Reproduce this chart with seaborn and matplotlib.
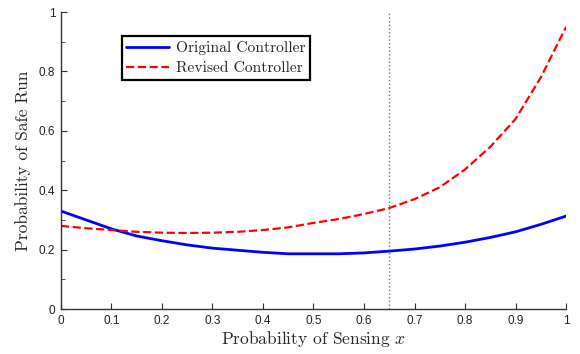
import matplotlib
matplotlib.use("Agg")
import matplotlib.pyplot as plt
import seaborn as sns
import pandas as pd

# values
x_vals = [0.0, 0.05, 0.1, 0.15, 0.2, 0.25, 0.3, 0.35, 0.4, 0.45, 0.5,
          0.55, 0.6, 0.65, 0.7, 0.75, 0.8, 0.85, 0.9, 0.95, 1.0]
original = [0.330, 0.300, 0.270, 0.246, 0.230, 0.216, 0.205, 0.198, 0.191, 0.186, 0.186,
            0.186, 0.189, 0.195, 0.202, 0.212, 0.225, 0.241, 0.260, 0.285, 0.313]
revised = [0.280, 0.272, 0.266, 0.260, 0.257, 0.256, 0.257, 0.260, 0.266, 0.275, 0.290,
           0.303, 0.320, 0.340, 0.370, 0.410, 0.470, 0.546, 0.640, 0.780, 0.950]
x_ticks = [0, 0.1, 0.2, 0.3, 0.4, 0.5, 0.6, 0.7, 0.8, 0.9, 1]
x_ticklabels = ["0", "0.1", "0.2", "0.3", "0.4", "0.5", "0.6", "0.7", "0.8", "0.9", "1"]
y_ticks = [0, 0.2, 0.4, 0.6, 0.8, 1]
y_ticklabels = ["0", "0.2", "0.4", "0.6", "0.8", "1"]
y_minor = [0.1, 0.3, 0.5, 0.7, 0.9]
threshold = 0.65

df = pd.DataFrame({"x": x_vals, "Original Controller": original, "Revised Controller": revised})

sns.set_style("ticks")
plt.rcParams["mathtext.fontset"] = "cm"

fig = plt.figure(figsize=(5.8, 3.54), dpi=100)
ax = fig.add_axes([0.105, 0.127, 0.871, 0.839])

sns.lineplot(data=df, x="x", y="Original Controller", ax=ax, color="#0000ff",
             linewidth=2.0, label="Original Controller")
sns.lineplot(data=df, x="x", y="Revised Controller", ax=ax, color="#ff0000",
             linewidth=1.6, linestyle="--", dashes=(3, 1.5), label="Revised Controller")
ax.axvline(threshold, color="#777777", linestyle=":", linewidth=1.0)

ax.set_xlim(0, 1)
ax.set_ylim(0, 1)
ax.set_xticks(x_ticks)
ax.set_xticklabels(x_ticklabels)
ax.set_yticks(y_ticks)
ax.set_yticklabels(y_ticklabels)
ax.set_yticks(y_minor, minor=True)
ax.tick_params(axis="both", which="both", direction="in", labelsize=8.5,
               color="#333333", labelcolor="#222222", pad=4)
ax.tick_params(axis="both", which="major", length=4)
ax.tick_params(axis="both", which="minor", length=3)
for lab in ax.get_xticklabels() + ax.get_yticklabels():
    lab.set_family("Liberation Sans")

sns.despine(ax=ax)
for sp in ["left", "bottom"]:
    ax.spines[sp].set_color("#333333")
    ax.spines[sp].set_linewidth(1.0)

ax.set_xlabel("Probability of Sensing $x$", family="cmr10", fontsize=12.5, labelpad=2)
ax.set_ylabel("Probability of Safe Run", family="cmr10", fontsize=12.5, labelpad=6)

leg = ax.legend(loc="upper left", bbox_to_anchor=(0.12, 0.918), fancybox=False,
                framealpha=1, edgecolor="black", borderpad=0.3, handlelength=2.75,
                handletextpad=0.45, labelspacing=0.4, borderaxespad=0,
                prop={"family": "cmr10", "size": 11.2})
leg.get_frame().set_linewidth(1.6)

fig.savefig("out.png", dpi=100)
